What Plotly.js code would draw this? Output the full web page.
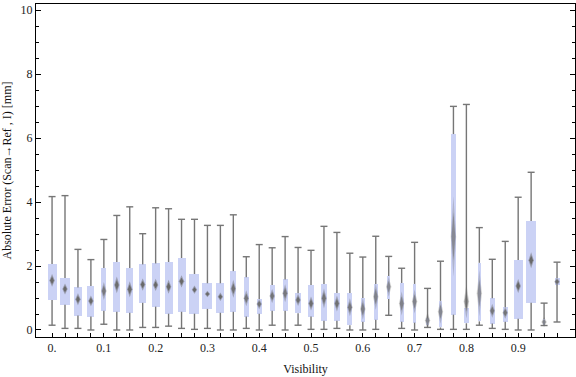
<!DOCTYPE html>
<html><head><meta charset="utf-8">
<script src="https://cdn.plot.ly/plotly-3.0.1.min.js"></script>
<style>html,body{margin:0;padding:0;background:#fff}#chart{width:576px;height:377px}</style>
</head><body><div id="chart"></div>
<script>
// ---- data ----
const visibility = [0, 0.025, 0.05, 0.075, 0.1, 0.125, 0.15, 0.175, 0.2, 0.225,
  0.25, 0.275, 0.3, 0.325, 0.35, 0.375, 0.4, 0.425, 0.45, 0.475,
  0.5, 0.525, 0.55, 0.575, 0.6, 0.625, 0.65, 0.675, 0.7, 0.725,
  0.75, 0.775, 0.8, 0.825, 0.85, 0.875, 0.9, 0.925, 0.95, 0.975];
const whiskerMax = [4.17, 4.20, 2.52, 2.20, 2.83, 3.58, 3.85, 3.01, 3.82, 3.79,
  3.46, 3.46, 3.27, 3.27, 3.60, 2.29, 2.67, 2.57, 2.92, 2.58,
  2.49, 3.24, 3.05, 2.40, 2.28, 2.93, 2.30, 1.93, 2.74, 1.30,
  2.15, 6.99, 7.05, 3.20, 2.21, 2.77, 4.15, 4.93, 0.84, 2.12];
const q3 = [2.06, 1.625, 1.33, 1.375, 1.94, 2.125, 1.94, 2.05, 2.08, 2.125,
  2.25, 1.75, 1.46, 1.46, 1.84, 1.65, 0.97, 1.41, 1.58, 1.15,
  1.41, 1.44, 1.16, 1.16, 1.00, 1.44, 1.69, 1.47, 1.44, 0.36,
  0.91, 6.125, 0.70, 2.10, 0.99, 0.71, 2.19, 3.41, 0.34, 1.625];
const median = [1.55, 1.28, 0.96, 0.91, 1.22, 1.41, 1.27, 1.42, 1.41, 1.35,
  1.52, 1.26, 1.125, 1.04, 1.29, 0.99, 0.81, 1.06, 1.15, 0.94,
  0.83, 0.99, 0.83, 0.71, 0.66, 1.04, 1.35, 0.83, 0.89, 0.30,
  0.57, 2.92, 0.89, 1.15, 0.60, 0.54, 1.375, 2.18, 0.25, 1.51];
const q1 = [0.94, 0.79, 0.45, 0.42, 0.60, 0.57, 0.54, 0.85, 0.73, 0.51,
  0.57, 0.51, 0.66, 0.54, 0.57, 0.42, 0.51, 0.60, 0.60, 0.52,
  0.42, 0.29, 0.29, 0.15, 0.26, 0.32, 0.97, 0.26, 0.23, 0.17,
  0.08, 0.48, 0.21, 0.27, 0.20, 0.26, 0.35, 0.85, 0.17, 1.42];
const whiskerMin = [0.15, 0.05, 0.05, 0.00, 0.18, 0.00, 0.00, 0.08, 0.08, 0.12,
  0.05, 0.02, 0.05, 0.00, 0.00, 0.05, 0.00, 0.15, 0.00, 0.15,
  0.02, 0.02, 0.05, 0.00, 0.00, 0.02, 0.46, 0.05, 0.00, 0.08,
  0.02, 0.02, 0.02, 0.15, 0.05, 0.02, 0.00, 0.00, 0.14, 0.25];
// spread of the median marker (half height, in mm)
const medianSpread = [0.20, 0.17, 0.19, 0.17, 0.28, 0.26, 0.25, 0.19, 0.19, 0.22,
  0.19, 0.13, 0.10, 0.13, 0.28, 0.25, 0.16, 0.22, 0.28, 0.19,
  0.22, 0.31, 0.25, 0.28, 0.34, 0.41, 0.31, 0.375, 0.375, 0.25,
  0.375, 1.25, 0.53, 0.72, 0.22, 0.19, 0.22, 0.25, 0.16, 0.13];
// relative box widths (sample weight), in pixels as drawn in the reference
const boxWidthPx = [9, 10.5, 7.3, 7, 5, 7, 7.3, 7.3, 8, 8,
  8, 10, 10, 8, 6, 5, 4.7, 5, 5, 5.5,
  6, 6, 6, 5, 4, 4, 2.5, 4, 3.7, 3,
  3, 5, 4.5, 3, 4.7, 4.7, 9, 10.7, 2.5, 5];
const xLabelVals = [0, 0.1, 0.2, 0.3, 0.4, 0.5, 0.6, 0.7, 0.8, 0.9];
const xLabelText = ["0.", "0.1", "0.2", "0.3", "0.4", "0.5", "0.6", "0.7", "0.8", "0.9"];
const yTickVals = [0, 2, 4, 6, 8, 10];

// ---- layout geometry ----
const W = 576, H = 377;
const M = {l: 36, r: 1, t: 4, b: 40};
const xRange = [-0.031, 1.0097];
const yRange = [-0.219, 10.19];
const pxPerX = (W - M.l - M.r) / (xRange[1] - xRange[0]);
const pxPerY = (H - M.t - M.b) / (yRange[1] - yRange[0]);

const FONT = "Liberation Serif";
const BOX = "#cbd2f5";
const WHISK = "#767676";

const traces = [];
// boxes
traces.push({
  type: "bar", x: visibility,
  base: q1, y: q3.map((v, i) => v - q1[i]),
  width: boxWidthPx.map(w => w / pxPerX),
  marker: {color: BOX, line: {width: 0}},
  hoverinfo: "skip", showlegend: false
});
// whiskers (outside the box)
const wx = [], wy = [];
visibility.forEach((v, i) => {
  wx.push(v, v, null, v, v, null);
  wy.push(q3[i], whiskerMax[i], null, q1[i], whiskerMin[i], null);
});
traces.push({type: "scatter", mode: "lines", x: wx, y: wy,
  line: {color: WHISK, width: 1.4}, hoverinfo: "skip", showlegend: false});
// caps
traces.push({type: "scatter", mode: "markers",
  x: visibility.concat(visibility), y: whiskerMax.concat(whiskerMin),
  marker: {symbol: "line-ew", size: 5, line: {color: WHISK, width: 1.4}},
  hoverinfo: "skip", showlegend: false});
// median diamonds (soft outer + darker core)
const halfW = 2.7 / pxPerX;
visibility.forEach((v, i) => {
  const hPx = medianSpread[i] * pxPerY;
  const op = Math.min(1, 0.4 + 0.1 * boxWidthPx[i] * Math.sqrt(5 / hPx));
  [[1.0, 0.5, 1.0], [0.6, 1.0, 0.7]].forEach(([s, o, ws]) => {
    const hw = halfW * ws, hh = medianSpread[i] * s;
    traces.push({type: "scatter", mode: "lines",
      x: [v - hw, v, v + hw, v, v - hw],
      y: [median[i], median[i] + hh, median[i], median[i] - hh, median[i]],
      fill: "toself", fillcolor: "rgba(105,105,105," + (op * o).toFixed(3) + ")",
      line: {width: 0}, hoverinfo: "skip", showlegend: false});
  });
});

const layout = {
  width: W, height: H, margin: M,
  paper_bgcolor: "#fff", plot_bgcolor: "#fff",
  showlegend: false, bargap: 0,
  xaxis: {
    range: xRange, tickmode: "array", tickvals: visibility,
    ticktext: visibility.map(v => {
      const k = xLabelVals.findIndex(t => Math.abs(t - v) < 1e-9);
      return k >= 0 ? xLabelText[k] : "";
    }),
    ticks: "inside", ticklen: 4, tickwidth: 1, tickcolor: "#000",
    showline: true, linecolor: "#000", linewidth: 1, mirror: true,
    showgrid: false, zeroline: false,
    tickfont: {family: FONT, size: 12, color: "#222"},
    title: {text: "Visibility", font: {family: FONT, size: 12, color: "#111"}, standoff: 10}
  },
  yaxis: {
    range: yRange, tickmode: "array", tickvals: yTickVals,
    ticks: "inside", ticklen: 5, tickwidth: 1, tickcolor: "#000",
    minor: {dtick: 0.5, tick0: 0, ticks: "inside", ticklen: 3, tickcolor: "#000", showgrid: false},
    showline: true, linecolor: "#000", linewidth: 1, mirror: "ticks",
    showgrid: false, zeroline: false,
    tickfont: {family: FONT, size: 12, color: "#222"},
    title: {text: "Absolute Error (Scan→Ref , I) [mm]", font: {family: FONT, size: 12, color: "#111"}, standoff: 6}
  }
};
Plotly.newPlot("chart", traces, layout, {staticPlot: true, displayModeBar: false});
</script>
</body></html>
